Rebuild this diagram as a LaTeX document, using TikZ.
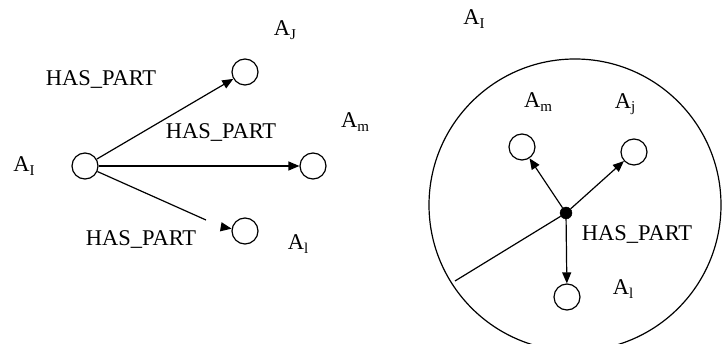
\documentclass[tikz,border=0pt]{standalone}
\usepackage{fontspec}
\setmainfont{Liberation Serif}
\usetikzlibrary{arrows.meta}
\tikzset{
  x=1pt,y=-1pt,
  part/.style={circle,draw,line width=1.2pt,minimum size=26pt,inner sep=0pt},
  lbl/.style={inner sep=0pt,font=\fontsize{22.5}{26}\selectfont},
  arr/.style={line width=1.2pt,-{Triangle[length=11pt,width=9pt]}},
  ln/.style={line width=1.2pt}
}
\newcommand{\Asub}[1]{A\raisebox{-3.5pt}{\fontsize{15}{16}\selectfont #1}}
\begin{document}
\begin{tikzpicture}
\useasboundingbox (0,0) rectangle (722,344);
\clip (0,0) rectangle (722,344);
% left diagram
\node[part] (aI) at (85,166) {};
\node[part] (aJ) at (245,72) {};
\node[part] (aM) at (313,166) {};
\node[part] (aL) at (245,231) {};
\node[lbl] (tI) at (24,166) {\Asub{I}};
\node[lbl] (tJ) at (285,30) {\Asub{J}};
\node[lbl] (tM) at (355,122) {\Asub{m}};
\node[lbl] (tL) at (298,244) {\Asub{l}};
\node[lbl] (h1) at (101,80) {HAS\_PART};
\node[lbl] (h2) at (221,133) {HAS\_PART};
\node[lbl] (h3) at (141,240) {HAS\_PART};
\draw[arr] (aI) -- (aJ);
\draw[arr] (aI) -- (aM);
\coordinate (brkA) at (206,220);
\coordinate (brkB) at (222,227);
\draw[ln] (aI) -- (brkA);
\draw[arr] (brkB) -- (aL);
% right diagram
\node[circle,draw,line width=1.2pt,minimum size=292pt,inner sep=0pt] (big) at (575,205) {};
\node[circle,fill=black,draw=black,minimum size=12pt,inner sep=0pt] (dot) at (566,213) {};
\node[part] (bM) at (522,147) {};
\node[part] (bJ) at (634,152) {};
\node[part] (bL) at (567,297) {};
\node[lbl] (uI) at (474,19) {\Asub{I}};
\node[lbl] (uM) at (538,102) {\Asub{m}};
\node[lbl] (uJ) at (625,104) {\Asub{j}};
\node[lbl] (uL) at (623,289) {\Asub{l}};
\node[lbl] (h4) at (637,235) {HAS\_PART};
\draw[arr] (dot) -- (bM);
\draw[arr] (dot) -- (bJ);
\draw[arr] (dot) -- (bL);
\coordinate (rim) at (455,281);
\draw[ln] (dot) -- (rim);
\end{tikzpicture}
\end{document}
